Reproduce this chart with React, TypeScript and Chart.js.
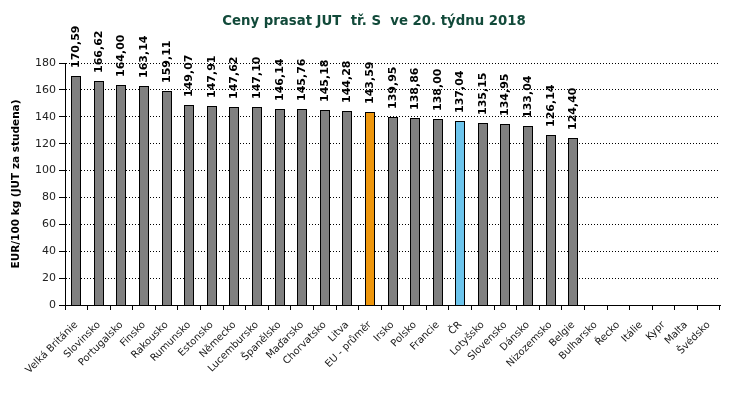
import React, { useEffect, useRef } from "react";
import { Chart, registerables } from "chart.js";

Chart.register(...registerables);

const categories = [
  "Velká Británie", "Slovinsko", "Portugalsko", "Finsko", "Rakousko", "Rumunsko",
  "Estonsko", "Německo", "Lucembursko", "Španělsko", "Maďarsko", "Chorvatsko",
  "Litva", "EU - průměr", "Irsko", "Polsko", "Francie", "ČR", "Lotyšsko",
  "Slovensko", "Dánsko", "Nizozemsko", "Belgie", "Bulharsko", "Řecko", "Itálie",
  "Kypr", "Malta", "Švédsko",
];

const prices: (number | null)[] = [
  170.59, 166.62, 164.0, 163.14, 159.11, 149.07, 147.91, 147.62, 147.1, 146.14,
  145.76, 145.18, 144.28, 143.59, 139.95, 138.86, 138.0, 137.04, 135.15, 134.95,
  133.04, 126.14, 124.4, null, null, null, null, null, null,
];

const yTicks = [0, 20, 40, 60, 80, 100, 120, 140, 160, 180];

const titleText = "Ceny prasat JUT  tř. S  ve 20. týdnu 2018";
const yTitle = "EUR/100 kg (JUT za studena)";

const GRAY = "#808080";
const ORANGE = "#EE960C";
const BLUE = "#6CC4EC";

const barColors = categories.map((c) =>
  c === "EU - průměr" ? ORANGE : c === "ČR" ? BLUE : GRAY
);

const fmt = (v: number) => v.toFixed(2).replace(".", ",");

const labelPlugin = {
  id: "barLabels",
  beforeDatasetsDraw(chart: any) {
    // snap bar edges to whole pixels so the 1px black outline stays crisp
    const meta = chart.getDatasetMeta(0);
    meta.data.forEach((el: any) => {
      el.x = Math.round(el.x);
      el.width = Math.round(el.width);
      el.y = Math.round(el.y);
      el.base = Math.round(el.base);
    });
  },
  afterDatasetsDraw(chart: any) {
    const ctx = chart.ctx;
    const meta = chart.getDatasetMeta(0);
    ctx.save();
    ctx.font = "bold 11px 'DejaVu Sans'";
    ctx.fillStyle = "#000";
    ctx.textAlign = "left";
    ctx.textBaseline = "middle";
    meta.data.forEach((el: any, i: number) => {
      const v = prices[i];
      if (v == null) return;
      ctx.save();
      ctx.translate(el.x + 0.5, el.y - 8);
      ctx.rotate(-Math.PI / 2);
      ctx.fillText(fmt(v), 0, 0);
      ctx.restore();
    });
    ctx.restore();
  },
  afterDraw(chart: any) {
    const ctx = chart.ctx;
    ctx.save();
    ctx.font = "bold 13.3px 'DejaVu Sans'";
    ctx.fillStyle = "#124A3A";
    ctx.textAlign = "center";
    ctx.textBaseline = "middle";
    ctx.fillText(titleText, 374, 22);
    ctx.restore();
  },
};

export default function App() {
  const ref = useRef<HTMLCanvasElement | null>(null);
  useEffect(() => {
    if (!ref.current) return;
    const chart = new Chart(ref.current, {
      type: "bar",
      data: {
        labels: categories,
        datasets: [
          {
            data: prices as any,
            backgroundColor: barColors,
            borderColor: "#000",
            borderWidth: 1,
            categoryPercentage: 1,
            barPercentage: 0.45,
          },
        ],
      },
      options: {
        responsive: false,
        animation: false,
        layout: { padding: { top: 63, right: 14, left: 0, bottom: 0 } },
        plugins: { legend: { display: false }, tooltip: { enabled: false }, title: { display: false } },
        scales: {
          x: {
            grid: {
              display: true,
              drawOnChartArea: false,
              drawTicks: true,
              tickLength: 5,
              color: "#000",
              offset: true,
            },
            border: { display: true, color: "#000", width: 1 },
            ticks: {
              autoSkip: false,
              maxRotation: 45,
              minRotation: 45,
              color: "#1a1a1a",
              font: { family: "'DejaVu Sans'", size: 10 },
              padding: 9,
            },
            afterFit(scale: any) {
              scale.height = 95;
            },
          },
          y: {
            min: 0,
            max: 180,
            afterBuildTicks(scale: any) {
              scale.ticks = yTicks.map((v) => ({ value: v }));
            },
            grid: {
              color: "#000",
              lineWidth: 1,
              drawTicks: true,
              tickLength: 6,
              tickColor: "#000",
            },
            border: { display: true, color: "#000", width: 1, dash: [1, 2] },
            ticks: {
              color: "#222",
              font: { family: "'DejaVu Sans'", size: 11 },
              padding: 3,
            },
            title: {
              display: true,
              text: yTitle,
              color: "#000",
              font: { family: "'DejaVu Sans'", size: 10.5, weight: "bold" },
              padding: { top: 10, bottom: 0 },
            },
            afterFit(scale: any) {
              scale.width = 65;
            },
          },
        },
      },
      plugins: [labelPlugin],
    });
    return () => chart.destroy();
  }, []);
  return (
    <div style={{ position: "absolute", left: 0, top: 0, width: 734, height: 400, background: "#fff" }}>
      <canvas ref={ref} width={734} height={400} />
    </div>
  );
}
